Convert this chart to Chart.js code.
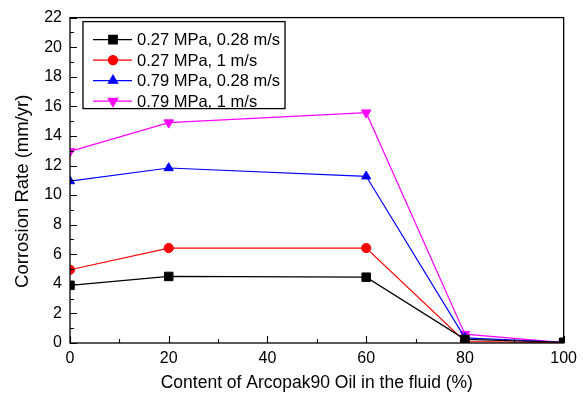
<!DOCTYPE html>
<html>
<head>
<meta charset="utf-8">
<script src="https://cdn.jsdelivr.net/npm/chart.js@4/dist/chart.umd.min.js"></script>
<style>
  html, body { margin: 0; padding: 0; background: #fff; }
  canvas { display: block; }
</style>
</head>
<body>
<canvas id="chart" width="583" height="394"></canvas>
<script>
// Oil content in the fluid (%)
const oilContent = [0, 20, 60, 80, 100];

// Corrosion rate (mm/yr) for each test condition
const lowPressSlow = [3.9, 4.5, 4.45, 0.25, 0.05];
const lowPressFast = [4.95, 6.42, 6.42, 0.1, 0.02];
const highPressSlow = [10.95, 11.83, 11.27, 0.35, 0.05];
const highPressFast = [12.95, 14.9, 15.57, 0.6, 0.02];

const seriesLabels = [
  '0.27 MPa, 0.28 m/s',
  '0.27 MPa, 1 m/s',
  '0.79 MPa, 0.28 m/s',
  '0.79 MPa, 1 m/s'
];

const yTickValues = [0, 2, 4, 6, 8, 10, 12, 14, 16, 18, 20, 22];
const xTickValues = [0, 20, 40, 60, 80, 100];

const yTitle = 'Corrosion Rate (mm/yr)';
const xTitle = 'Content of Arcopak90 Oil in the fluid (%)';

const FONT = '"Liberation Sans", Arial, sans-serif';

function toPoints(ys) {
  return oilContent.map((x, i) => ({ x: x, y: ys[i] }));
}

function series(label, ys, color, style, radius, rotation) {
  return {
    label: label,
    data: toPoints(ys),
    borderColor: color,
    backgroundColor: color,
    borderWidth: 1.2,
    pointStyle: style,
    pointRadius: radius,
    pointRotation: rotation || 0,
    pointBorderWidth: 1,
    pointBorderColor: color,
    pointBackgroundColor: color,
    showLine: true,
    tension: 0
  };
}

// Frame plus inward major/minor ticks on the left and bottom axes
const framePlugin = {
  id: 'frame',
  afterDatasetsDraw(chart) {
    const { ctx, chartArea: a, scales } = chart;
    ctx.save();
    ctx.strokeStyle = '#000';
    ctx.lineWidth = 1.3;
    ctx.strokeRect(a.left, a.top, a.right - a.left, a.bottom - a.top);
    ctx.lineWidth = 1.1;
    ctx.beginPath();
    const ys = scales.y;
    for (let v = 0; v <= 22; v += 1) {
      const py = Math.round(ys.getPixelForValue(v)) + 0.5;
      const len = v % 2 === 0 ? 7 : 4;
      ctx.moveTo(a.left, py);
      ctx.lineTo(a.left + len, py);
    }
    const xs = scales.x;
    for (let v = 0; v <= 100; v += 10) {
      const px = Math.round(xs.getPixelForValue(v)) + 0.5;
      const len = v % 20 === 0 ? 7 : 4;
      ctx.moveTo(px, a.bottom);
      ctx.lineTo(px, a.bottom - len);
    }
    ctx.stroke();

    // vertical axis title
    ctx.fillStyle = '#000';
    ctx.font = '18.5px ' + FONT;
    ctx.textAlign = 'center';
    ctx.textBaseline = 'middle';
    ctx.translate(23, (a.top + a.bottom) / 2 + 11);
    ctx.rotate(-Math.PI / 2);
    ctx.fillText(yTitle, 0, 0);
    ctx.restore();
  }
};

// Boxed legend inside the plot area, upper left
const boxLegendPlugin = {
  id: 'boxLegend',
  afterDraw(chart) {
    const { ctx, chartArea: a } = chart;
    const bx = a.left + 13, by = a.top + 4, bw = 202, bh = 87;
    ctx.save();
    ctx.fillStyle = '#fff';
    ctx.fillRect(bx, by, bw, bh);
    ctx.strokeStyle = '#000';
    ctx.lineWidth = 1.3;
    ctx.strokeRect(bx, by, bw, bh);
    ctx.font = '16.5px ' + FONT;
    ctx.textBaseline = 'middle';
    chart.data.datasets.forEach((ds, i) => {
      const cy = by + 18 + i * 20.5;
      ctx.strokeStyle = ds.borderColor;
      ctx.lineWidth = 1.2;
      ctx.beginPath();
      ctx.moveTo(bx + 10, cy);
      ctx.lineTo(bx + 49, cy);
      ctx.stroke();
      ctx.fillStyle = ds.borderColor;
      Chart.helpers.drawPoint(ctx, {
        pointStyle: ds.pointStyle,
        rotation: ds.pointRotation,
        radius: ds.pointRadius,
        borderWidth: 1
      }, bx + 30, cy);
      ctx.fillStyle = '#000';
      ctx.fillText(ds.label, bx + 54, cy + 1);
    });
    ctx.restore();
  }
};

new Chart(document.getElementById('chart'), {
  type: 'scatter',
  data: {
    datasets: [
      series(seriesLabels[0], lowPressSlow, '#000000', 'rect', 6),
      series(seriesLabels[1], lowPressFast, '#ff0000', 'circle', 4.6),
      series(seriesLabels[2], highPressSlow, '#0000ff', 'triangle', 5.3),
      series(seriesLabels[3], highPressFast, '#ff00ff', 'triangle', 5.5, 180)
    ]
  },
  options: {
    responsive: false,
    animation: false,
    layout: { padding: { top: 15, right: 16, left: 0, bottom: 0 } },
    plugins: {
      legend: { display: false },
      tooltip: { enabled: false }
    },
    scales: {
      x: {
        type: 'linear',
        min: 0,
        max: 100,
        afterBuildTicks(scale) { scale.ticks = xTickValues.map(v => ({ value: v })); },
        afterFit(scale) { scale.height = 51; },
        grid: { display: false, drawTicks: false },
        border: { display: false },
        ticks: { color: '#000', font: { family: FONT, size: 16 }, padding: 6, maxRotation: 0 },
        title: {
          display: true,
          text: xTitle,
          color: '#000',
          font: { family: FONT, size: 17.5 },
          padding: { top: 3, bottom: 0 }
        }
      },
      y: {
        type: 'linear',
        min: 0,
        max: 22,
        afterBuildTicks(scale) { scale.ticks = yTickValues.map(v => ({ value: v })); },
        afterFit(scale) { scale.width = 70; },
        grid: { display: false, drawTicks: false },
        border: { display: false },
        ticks: { color: '#000', font: { family: FONT, size: 16 }, padding: 8 }
      }
    }
  },
  plugins: [framePlugin, boxLegendPlugin]
});
</script>
</body>
</html>
